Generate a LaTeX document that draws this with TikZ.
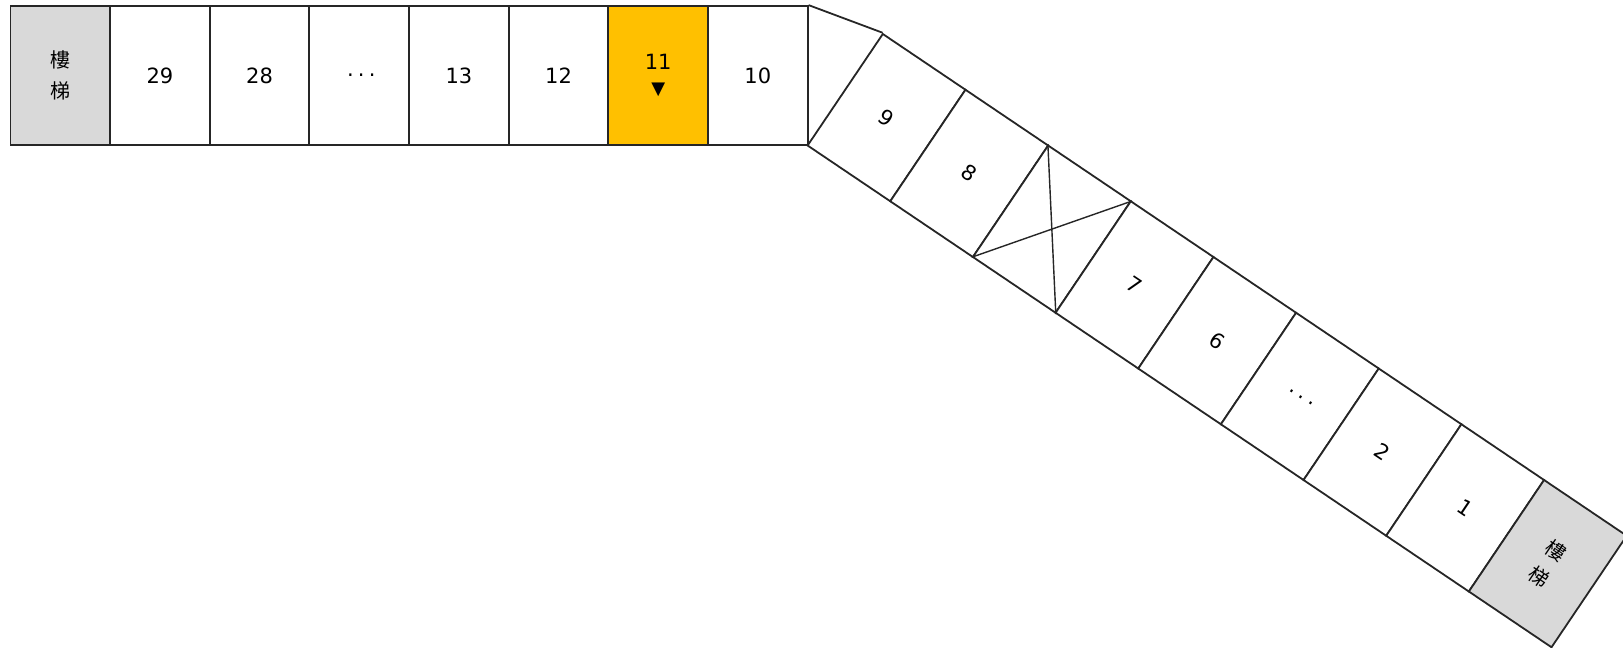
\documentclass[tikz,border=0pt]{standalone}
\usepackage{fontspec}
\setmainfont{DejaVu Sans}
\newfontfamily\cjk{Noto Sans CJK TC}
\definecolor{stairgray}{HTML}{D9D9D9}
\definecolor{hilite}{HTML}{FFC000}
\definecolor{edge}{HTML}{262626}
\tikzset{
  cellbox/.style={draw=edge, line width=1.8pt, fill=white, rectangle, inner sep=0pt,
    minimum width=99.66pt, minimum height=139pt, font=\fontsize{21}{25}\selectfont},
  dcell/.style={cellbox, minimum width=99.7pt, minimum height=134.5pt, transform shape},
  stairbox/.style={fill=stairgray, align=center, font=\cjk\fontsize{20}{31}\selectfont},
  hot/.style={fill=hilite},
  txt/.style={inner sep=0pt, font=\fontsize{21}{25}\selectfont},
  xline/.style={draw=edge, line width=1.4pt},
  link/.style={draw=edge, line width=1.8pt}
}
\newcommand{\spdots}{\hbox{\addfontfeature{LetterSpace=20}\kern4pt...}}
\begin{document}
\begin{tikzpicture}[x=1pt,y=1pt]
\clip (0,0) rectangle (1623,-648);
% top row
\node[cellbox,stairbox] (stairL) at (60.23,-75.5) {樓\\梯};
\node[cellbox] (c29) at (159.89,-75.5) {29};
\node[cellbox] (c28) at (259.55,-75.5) {28};
\node[cellbox] (cdotsT) at (359.21,-75.5) {\spdots};
\node[cellbox] (c13) at (458.87,-75.5) {13};
\node[cellbox] (c12) at (558.53,-75.5) {12};
\node[cellbox,hot] (c11) at (658.19,-75.5) {};
\node[cellbox] (c10) at (757.85,-75.5) {10};
\node[txt] (n11) at ([yshift=14]c11.center) {11};
\node[txt, font=\fontsize{18}{20}\selectfont] (tri11) at ([yshift=-14.5]c11.center) {▼};
% diagonal row
\begin{scope}[shift={(807.6,-145.5)}, rotate=-34]
\node[dcell] (d9) at (49.85,67.25) {9};
\node[dcell] (d8) at (149.55,67.25) {8};
\node[dcell] (dx) at (249.25,67.25) {};
\node[dcell] (d7) at (348.95,67.25) {7};
\node[dcell] (d6) at (448.65,67.25) {6};
\node[dcell] (ddots) at (548.35,67.25) {\spdots};
\node[dcell] (d2) at (648.05,67.25) {2};
\node[dcell] (d1) at (747.75,67.25) {1};
\node[dcell,stairbox] (stairR) at (847.45,67.25) {樓\\梯};
\end{scope}
% connector triangle and crossed cell
\draw[link] (c10.north east) -- (d9.north west);
\draw[xline] (dx.north west) -- (dx.south east);
\draw[xline] (dx.south west) -- (dx.north east);
\end{tikzpicture}
\end{document}
